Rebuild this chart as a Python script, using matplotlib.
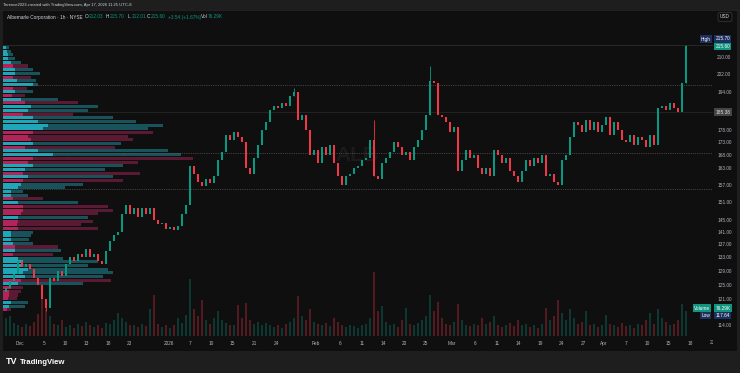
import numpy as np
import matplotlib
matplotlib.use("Agg")
import matplotlib.pyplot as plt
import matplotlib.transforms as mtransforms
from matplotlib.patches import Rectangle

plt.rcParams['font.family'] = ['Liberation Sans', 'DejaVu Sans']

# ---- data (one bar ~ 4 px) ----
first_open = 123.0
closes = [124, 126, 128, 132, 130, 131, 129.5, 127, 125, 121,
          118.5, 127, 126, 129, 127.5, 131, 133, 132, 134, 133,
          135.5, 133, 134, 132, 131, 135, 138, 140, 141, 147,
          150, 147, 149, 146, 149, 147, 149, 145, 143.5, 144,
          142, 142.5, 141.5, 143, 147, 150, 164, 161, 158, 156.5,
          159, 157.5, 160, 166, 169, 176, 174, 177, 175, 173,
          163, 161, 167, 172, 178, 181, 186, 188, 187, 189,
          188, 192, 194, 182, 184, 178, 168, 170, 165, 171,
          168, 172, 165, 160, 157, 160, 161, 163, 164, 166,
          167, 174, 160, 159, 165, 167, 169, 173, 171, 168,
          169, 166, 171, 174, 178, 184, 199, 198, 184, 183,
          181, 177, 179, 162, 166, 170, 167, 168, 163, 161,
          163, 160, 170, 168, 165, 167, 162, 160, 158, 162,
          166, 164, 167, 165, 168, 160, 161, 158, 157, 166,
          168, 175, 181, 180, 177, 182, 178, 181, 177, 180,
          183, 176, 181, 178, 174, 173, 176, 172, 175, 174,
          171, 176, 172, 187, 188, 186, 189, 187, 185.4, 198,
          215.6]
volumes_k = [54, 60, 41, 33, 27, 38, 30, 44, 68, 136,
             82, 60, 38, 33, 49, 27, 33, 24, 38, 30,
             44, 33, 27, 35, 24, 41, 38, 49, 71, 54,
             44, 33, 35, 27, 38, 30, 82, 125, 38, 27,
             33, 24, 35, 54, 41, 65, 174, 82, 60, 109,
             49, 38, 54, 76, 49, 41, 35, 33, 95, 54,
             101, 49, 38, 44, 33, 41, 35, 27, 33, 24,
             38, 44, 54, 122, 60, 49, 82, 44, 38, 33,
             41, 30, 54, 44, 33, 27, 35, 30, 24, 33,
             38, 54, 196, 76, 92, 44, 33, 38, 27, 49,
             87, 38, 33, 41, 49, 60, 125, 76, 103, 54,
             38, 33, 44, 98, 49, 35, 30, 38, 33, 54,
             38, 44, 60, 33, 27, 35, 41, 30, 49, 33,
             38, 27, 33, 24, 38, 87, 49, 60, 109, 71,
             49, 82, 54, 38, 44, 76, 33, 38, 27, 35,
             65, 38, 33, 27, 41, 30, 35, 24, 38, 33,
             49, 71, 38, 82, 54, 44, 33, 38, 49, 98,
             76.29]
# notable wicks: bar index -> extreme price
spike_idx = [10, 72, 92, 106, 170]
spike_px = [117.64, 195.5, 182.0, 206.0, 215.70]

# visible range volume profile, rows from 215.70 down to 117.64
vp_tot = [6, 8, 10, 12, 18, 25, 30, 37, 28, 33,
          35, 24, 30, 22, 55, 75, 95, 85, 70, 110,
          133, 160, 145, 150, 125, 130, 118, 112, 165, 178,
          190, 135, 120, 102, 137, 110, 120, 80, 62, 20,
          25, 40, 75, 105, 110, 95, 85, 90, 78, 95,
          30, 28, 26, 30, 55, 58, 50, 60, 95, 85,
          105, 110, 100, 108, 80, 20, 18, 15, 14, 25,
          22, 8]
vp_hi = [3, 4, 5, 5, 8, 10, 12, 12, 10, 14,
         30, 10, 12, 9, 18, 22, 28, 25, 20, 30,
         35, 45, 40, 30, 25, 28, 30, 22, 35, 50,
         30, 25, 30, 22, 20, 25, 20, 18, 15, 8,
         8, 10, 15, 20, 20, 18, 15, 15, 14, 15,
         8, 8, 8, 10, 12, 12, 10, 15, 20, 18,
         25, 20, 22, 18, 15, 8, 6, 6, 5, 8,
         6, 4]
vp_side = list("uuuuuduudu" "udududuudu" "uuuddduduu" "dduududuuu"
               "ududdduddd" "uuuududuuu" "uuududdddu" "ud")
vp_top, vp_bot = 215.70, 117.64
va_high, poc, va_low = 197.0, 168.7, 155.4
last_close, prev_line = 215.60, 185.38

price_ticks = [210, 202, 194, 178, 173, 168, 163, 157, 151, 145, 141, 137,
               133, 129, 125, 121, 114]
tick_pos = [3.5, 9.5, 14.75, 20, 25.5, 30.75, 40.75, 46, 51.25, 56.5, 62, 67.5,
            77.5, 83.5, 89, 94.25, 99.5, 104.75, 111.5, 117.25, 122.75, 128,
            133.5, 138.75, 144.25, 149.5, 155, 160.25, 165.5, 171]
tick_lab = ["Dec", "5", "10", "13", "18", "23", "2026", "7", "10", "15", "21", "24",
            "Feb", "6", "11", "14", "20", "25", "Mar", "6", "11", "14",
            "19", "24", "27", "Apr", "7", "10", "15", "18"]

UP, DN = '#089981', '#f23645'
BG, FRAME = '#0f0f0f', '#1e1e1e'
TXT = '#b2b5be'

W, H = 740, 373
fig = plt.figure(figsize=(W / 100, H / 100), dpi=100)
fig.patch.set_facecolor(FRAME)


def fx(px):
    return px / W


def fy(py):
    return 1 - py / H


def ftext(px, py, s, **kw):
    kw.setdefault('va', 'center')
    kw.setdefault('fontsize', 3.4)
    kw.setdefault('color', TXT)
    return fig.text(fx(px), fy(py), s, **kw)


# chart panel
fig.add_artist(Rectangle((fx(3), fy(351)), fx(734), 341 / H, transform=fig.transFigure,
                         facecolor=BG, edgecolor='none', zorder=0))

rect = [fx(3), fy(336), 710 / W, 326 / H]
axv = fig.add_axes(rect)
ax = fig.add_axes(rect)
ax.set_facecolor('none')
axv.set_axis_off()

x = np.arange(len(closes))
c = np.array(closes, dtype=float)
o = np.concatenate([[first_open], c[:-1]])
up = c >= o
cols = np.where(up, UP, DN)

# volume
axv.bar(x, volumes_k, width=0.6, color=cols, alpha=0.3, linewidth=0)
axv.set_ylim(0, 1000)
axv.set_xlim(-0.75, 176.75)

# volume profile (x in axes fraction, y in price)
edges = np.geomspace(vp_top, vp_bot, len(vp_tot) + 1)
bl = mtransforms.blended_transform_factory(ax.transAxes, ax.transData)
for k in range(len(vp_tot)):
    dim = '#18525a' if vp_side[k] == 'u' else '#5a1a33'
    bright = '#1fa6b8' if vp_side[k] == 'u' else '#b3245a'
    h = edges[k] - edges[k + 1]
    ax.barh(edges[k + 1], vp_tot[k] / 710, height=h * 0.82, left=0, align='edge',
            color=dim, transform=bl, zorder=1, linewidth=0)
    ax.barh(edges[k + 1], vp_hi[k] / 710, height=h * 0.82, left=0, align='edge',
            color=bright, transform=bl, zorder=1.1, linewidth=0)

# reference lines
ax.axhline(vp_top, color='#2c2c2c', lw=0.6, zorder=1.5)
ax.axhline(prev_line, color='#262626', lw=0.6, zorder=1.5)
for lvl in (va_high, poc, va_low):
    ax.axhline(lvl, color='#6e6e6e', lw=0.5, ls=(0, (1, 1.6)), zorder=1.6)

# candles
hi = np.maximum(o, c)
lo = np.minimum(o, c)
ax.bar(x, hi - lo, bottom=lo, width=0.45, color=cols, linewidth=0, zorder=3)
for i, p in zip(spike_idx, spike_px):
    ax.vlines(i, min(p, lo[i]), max(p, hi[i]), color=cols[i], lw=0.6, zorder=3)

ax.set_yscale('log')
ax.set_ylim(111.2, 233.8)
ax.set_xlim(-0.75, 176.75)
ax.yaxis.tick_right()
ax.set_yticks(price_ticks)
ax.set_yticklabels([f"{t:.2f}" for t in price_ticks])
ax.yaxis.set_minor_locator(matplotlib.ticker.NullLocator())
ax.tick_params(axis='y', length=0, pad=3, labelsize=3.4, labelcolor=TXT)
ax.set_xticks(tick_pos)
ax.set_xticklabels(tick_lab)
ax.tick_params(axis='x', length=0, pad=3.5, labelsize=3.4, labelcolor=TXT)
for s in ax.spines.values():
    s.set_visible(False)

# watermark
ax.text(0.498, 0.555, "ALB", transform=ax.transAxes, fontsize=15, fontweight='bold',
        color='#1b1b1b', ha='center', va='center', zorder=0.5)

# clipped last date label
t = ftext(710, 343, "23", ha='left')
t.set_clip_box(mtransforms.Bbox.from_extents(0, 0, 713, H))
t.set_clip_on(True)

# header / legend
ftext(3, 5, "Terence2023 created with TradingView.com, Apr 17, 2026 11:25 UTC-8",
      color='#d1d4dc', fontsize=3.0)
fig.add_artist(plt.Line2D([fx(0), fx(740)], [fy(10), fy(10)], transform=fig.transFigure,
                          color='#2a2a2a', lw=0.5))
ftext(7, 17, "Albemarle Corporation · 1h · NYSE", color='#d1d4dc')
for px, lab, val in [(85, "O", "212.03"), (106, "H", "215.70"), (128, "L", "212.01"),
                     (147, "C", "215.60")]:
    ftext(px, 17, lab, color='#d1d4dc')
    ftext(px + 3.5, 17, val, color=UP)
ftext(168, 17, "+3.54 (+1.67%)", color=UP)
ftext(201, 17, "Vol", color='#d1d4dc')
ftext(207.5, 17, "76.29K", color=UP)

# price scale tags
def tag(px, py, s, fc, color='white', ha='left'):
    ftext(px, py, s, ha=ha, color=color,
          bbox=dict(boxstyle='square,pad=0.25', fc=fc, ec='none'))

ftext(725, 17, "USD", ha='center', color='#d1d4dc',
      bbox=dict(boxstyle='round,pad=0.45', fc=BG, ec='#3a3a3a', lw=0.5))
tag(701, 39, "High", '#1c2f5e')
tag(715.5, 39, "215.70", '#1c2f5e')
tag(715.5, 46.5, "215.60", '#12957f')
tag(715.5, 112, "185.38", '#454545', color='#e0e0e0')
tag(694, 308, "Volume", '#12957f')
tag(715.5, 308, "76.29K", '#12957f')
tag(701.5, 315.5, "Low", '#1c2f5e')
tag(715.5, 315.5, "117.64", '#1c2f5e')

# footer logo
ftext(6, 362, "TV", color='white', fontsize=6.5, fontweight='bold')
ftext(20, 362, "TradingView", color='white', fontsize=5.6, fontweight='bold')

fig.savefig("out.png", dpi=100, facecolor=fig.get_facecolor())
